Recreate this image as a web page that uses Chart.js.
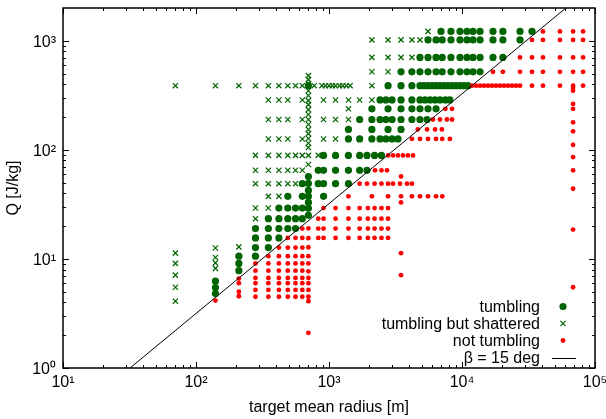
<!DOCTYPE html>
<html><head><meta charset="utf-8">
<script src="https://cdn.jsdelivr.net/npm/chart.js@4.4.1/dist/chart.umd.min.js"></script>
<style>html,body{margin:0;padding:0;background:#fff}canvas{display:block}</style>
</head><body>
<canvas id="c" width="606" height="419"></canvas>
<script>
// Q levels [J/kg] of the sampled rows
const qLevels = [1220, 1020, 705, 520, 388, 287, 238, 190, 154, 126, 89, 65, 49, 37.5, 29.3, 23.4, 19, 15.6, 12.7, 10.6, 9.1, 7.8, 6.7, 6.0, 5.2, 4.5];

// target radii [m] per Q level, by outcome
const tumblingRows = [
  [6950, 8260, 9660, 10900, 12100, 13670, 17100, 20300, 27300, 33600],
  [5550, 6380, 7100, 8260, 9660, 10900, 12100, 13670, 17100, 20300, 27300],
  [4830, 5550, 6380, 7100, 8260, 9660, 10900, 12100, 13670, 17100, 20300],
  [3480, 4200, 4830, 5550, 6380, 7100, 8260, 9660, 10900, 12100, 13670],
  [700, 2780, 3480, 4200, 4830, 5180, 5550, 5950, 6380, 6830, 7320, 7850, 8410, 9020, 9660, 10360, 11100],
  [2420, 2680, 2980, 3480, 4200, 4830, 5270, 5750, 6270, 6830, 7500, 8100],
  [2100, 2780, 3480, 4200, 4830, 5550, 6380],
  [1700, 2100, 2420, 2680, 2980, 3480, 4200, 4830, 5460],
  [1400, 2100, 2780, 3480],
  [1400, 1700, 2100, 2420, 2680, 2980, 3300],
  [910, 1120, 1400, 1700, 1930, 2200, 2480],
  [830, 910, 1120, 1400, 1700, 1930],
  [630, 830, 910, 1120, 1400],
  [490, 630, 910],
  [420, 490, 560, 630],
  [350, 420, 490, 560, 630],
  [280, 350, 420, 490, 560],
  [280, 350, 420],
  [280, 350],
  [280],
  [], [], [], [], [], []
];
const shatteredRows = [
  [5550],
  [2100, 2780, 3480, 4200, 4830],
  [2100, 2780, 3480, 4200],
  [2100, 2780],
  [70, 140, 210, 280, 350, 420, 490, 560, 630, 775, 885, 940, 1000, 1060, 1120, 1200, 1270, 1350, 1440, 2100],
  [350, 420, 490, 630, 910, 1120, 1400, 1700, 2100],
  [1400],
  [350, 420, 490, 630, 910, 1120, 1400],
  [],
  [350, 420, 490, 630, 910, 1120],
  [280, 350, 420, 490, 560, 630, 830],
  [280, 350, 420, 490, 560, 630],
  [280, 350, 420, 490, 560],
  [350, 420],
  [280, 350],
  [280],
  [], [], [], [], [], [], [], [], [], []
];
const notTumblingRows = [
  [40600, 54500, 68400, 81300],
  [33600, 40600, 54500, 68400, 81300],
  [27300, 33600, 40600, 54500, 68400, 81300],
  [17100, 20300, 27300, 33600, 40600, 54500, 68400, 81300],
  [11900, 12750, 13670, 14650, 15700, 16800, 18000, 19300, 20700, 22200, 23800, 25500, 27300, 33600, 40600, 54500, 68400, 81300],
  [],
  [7500, 8410, 68400],
  [6050, 6830, 7700, 8410],
  [4650, 5460, 6270, 7060],
  [4200, 4830, 5550, 6380, 7100, 8100],
  [2780, 3030, 3300, 3600, 3920, 4280],
  [2220, 2480, 2730, 68400],
  [1700, 1930, 2200, 2480, 2780, 3030, 3420, 3860, 4200],
  [1400, 2100, 2780, 3480, 4200, 4830, 5550, 6380, 7100],
  [910, 1120, 1400, 1700, 1960, 2200, 2480, 2780],
  [830, 910, 1120, 1400, 1700, 1960, 2200, 2480, 2780],
  [630, 830, 910, 1120, 1400, 1700, 1960, 2200, 2480, 2780],
  [490, 560, 630, 830, 910, 1120, 1400, 1700, 1960, 2200, 2480, 2780],
  [420, 490, 560, 630],
  [350, 420, 490, 560, 630],
  [280, 350, 420, 490, 560, 630],
  [280, 350, 420, 490, 560, 630],
  [280, 350, 420, 490, 560, 630],
  [280, 350, 420, 490, 560, 630],
  [280, 350, 420, 490, 560, 630],
  [280, 350, 420, 490, 560, 630]
];

// columns with their own Q values: [radius, [Q ...]]
const tumblingCols = [
  [140, [6.25, 5.47, 4.82]],
  [210, [10.6, 9.1, 7.8]],
  [700, [57, 49.3, 42.5, 37.5, 33, 29.1, 25.1]]
];
const shatteredCols = [
  [70, [11.3, 9.1, 7.1, 5.5, 4.1]],
  [140, [12.6, 10.3, 9.2, 8.2]],
  [210, [12.9]],
  [700, [480, 441, 405, 349, 315, 283, 260, 234, 211, 190, 171, 154, 141, 127, 115, 105, 89, 73.5]]
];
const notTumblingCols = [
  [140, [4.15]],
  [210, [6.6, 6.0, 5.0, 4.55]],
  [700, [19.1, 15.5, 12.8, 10.6, 9.1, 7.7, 6.7, 6.0, 5.2, 4.5, 4.1, 2.1]],
  [3480, [57, 33, 11.3, 7.1]],
  [68400, [370, 349, 264, 179, 148, 111, 86, 44, 18.6, 5.5]]
];

// beta = 15 deg boundary line
const lineR = [31.9, 59400];
const lineQ = [1, 1966];

const xTicks = [10, 100, 1000, 10000, 100000];
const yTicks = [1, 10, 100, 1000];
const seriesLabels = ['tumbling', 'tumbling but shattered', 'not tumbling', 'β = 15 deg'];

const GREEN = '#006400', RED = '#ff0000';
const FONT = {family: '"Liberation Sans", Arial, sans-serif', size: 16};
const SUP = ['⁰', '¹', '²', '³', '⁴', '⁵'];
const expLabel = v => '10' + SUP[Math.round(Math.log10(v))];

function build(rows, cols) {
  const pts = [];
  rows.forEach((rs, i) => rs.forEach(r => pts.push({x: r, y: qLevels[i]})));
  cols.forEach(([r, qs]) => qs.forEach(q => pts.push({x: r, y: q})));
  return pts;
}

const framePlugin = {
  id: 'frame',
  afterDatasetsDraw(chart) {
    const {ctx, chartArea: a, scales: {x, y}} = chart;
    ctx.save();
    ctx.strokeStyle = '#000';
    ctx.lineWidth = 1;
    ctx.beginPath();
    const xt = (v, len) => {
      const p = Math.round(x.getPixelForValue(v)) + 0.5;
      ctx.moveTo(p, a.bottom); ctx.lineTo(p, a.bottom - len);
      ctx.moveTo(p, a.top); ctx.lineTo(p, a.top + len);
    };
    const yt = (v, len) => {
      const p = Math.round(y.getPixelForValue(v)) + 0.5;
      ctx.moveTo(a.left, p); ctx.lineTo(a.left + len, p);
      ctx.moveTo(a.right, p); ctx.lineTo(a.right - len, p);
    };
    xTicks.forEach(v => xt(v, 6));
    for (let k = 0; k < xTicks.length - 1; k++)
      for (let m = 2; m <= 9; m++) xt(m * xTicks[k], 3);
    yTicks.forEach(v => yt(v, 6));
    for (let k = 0; k < yTicks.length; k++)
      for (let m = 2; m <= 9; m++) { const v = m * yTicks[k]; if (v < y.max) yt(v, 3); }
    ctx.stroke();
    ctx.lineWidth = 1.5;
    ctx.strokeRect(a.left, a.top, a.right - a.left, a.bottom - a.top);
    ctx.restore();
  }
};

const keyPlugin = {
  id: 'key',
  afterDraw(chart) {
    const {ctx} = chart;
    const textRight = 540, symX = 563, rows = [306.5, 323.5, 340.5, 357.5];
    ctx.save();
    ctx.font = '16px "Liberation Sans", Arial, sans-serif';
    ctx.textAlign = 'right';
    ctx.textBaseline = 'middle';
    chart.data.datasets.forEach((ds, i) => {
      const yy = rows[i];
      ctx.fillStyle = '#000';
      ctx.fillText(ds.label, textRight, yy + 1);
      if (i === 0) {
        ctx.fillStyle = GREEN; ctx.beginPath(); ctx.arc(symX, yy, 3.6, 0, Math.PI * 2); ctx.fill();
      } else if (i === 1) {
        ctx.strokeStyle = GREEN; ctx.lineWidth = 1.2; ctx.beginPath();
        ctx.moveTo(symX - 2.6, yy - 2.6); ctx.lineTo(symX + 2.6, yy + 2.6);
        ctx.moveTo(symX + 2.6, yy - 2.6); ctx.lineTo(symX - 2.6, yy + 2.6); ctx.stroke();
      } else if (i === 2) {
        ctx.fillStyle = RED; ctx.beginPath(); ctx.arc(symX, yy, 2.4, 0, Math.PI * 2); ctx.fill();
      } else {
        ctx.strokeStyle = '#000'; ctx.lineWidth = 1; ctx.beginPath();
        ctx.moveTo(552, Math.round(yy) + 0.5); ctx.lineTo(576, Math.round(yy) + 0.5); ctx.stroke();
      }
    });
    ctx.restore();
  }
};

new Chart(document.getElementById('c'), {
  type: 'scatter',
  data: {
    datasets: [
      {label: seriesLabels[0], data: build(tumblingRows, tumblingCols), pointStyle: 'circle', pointRadius: 3.6,
       backgroundColor: GREEN, borderColor: GREEN, borderWidth: 0, order: 3},
      {label: seriesLabels[1], data: build(shatteredRows, shatteredCols), pointStyle: 'crossRot', pointRadius: 3.7,
       backgroundColor: GREEN, borderColor: GREEN, borderWidth: 1.2, order: 2},
      {label: seriesLabels[2], data: build(notTumblingRows, notTumblingCols), pointStyle: 'circle', pointRadius: 2.4,
       backgroundColor: RED, borderColor: RED, borderWidth: 0, order: 1},
      {label: seriesLabels[3], data: lineR.map((r, i) => ({x: r, y: lineQ[i]})), showLine: true, pointRadius: 0,
       borderColor: '#000', borderWidth: 1, fill: false, order: 0}
    ]
  },
  options: {
    responsive: false, animation: false, devicePixelRatio: 1,
    layout: {padding: {left: 0, right: 11, top: 8, bottom: 0}},
    plugins: {legend: {display: false}, tooltip: {enabled: false}},
    scales: {
      x: {
        type: 'logarithmic', min: 10, max: 100000, position: 'bottom',
        afterBuildTicks: s => { s.ticks = xTicks.map(v => ({value: v})); },
        afterFit: s => { s.height = 51; s.paddingLeft = 0; s.paddingRight = 0; },
        grid: {display: false, drawTicks: false}, border: {display: false},
        ticks: {callback: v => expLabel(v), font: FONT, color: '#000', padding: 5, maxRotation: 0, autoSkip: false},
        title: {display: true, text: 'target mean radius [m]', font: FONT, color: '#000', padding: {top: 0, bottom: 2}}
      },
      y: {
        type: 'logarithmic', min: 1, max: 2000, position: 'left',
        afterBuildTicks: s => { s.ticks = yTicks.map(v => ({value: v})); },
        afterFit: s => { s.width = 63; s.paddingTop = 0; s.paddingBottom = 0; },
        grid: {display: false, drawTicks: false}, border: {display: false},
        ticks: {callback: v => expLabel(v), font: FONT, color: '#000', padding: 7, labelOffset: 2, autoSkip: false},
        title: {display: true, text: 'Q [J/kg]', font: FONT, color: '#000', padding: {top: 4, bottom: 0}}
      }
    }
  },
  plugins: [framePlugin, keyPlugin]
});
</script>
</body></html>
